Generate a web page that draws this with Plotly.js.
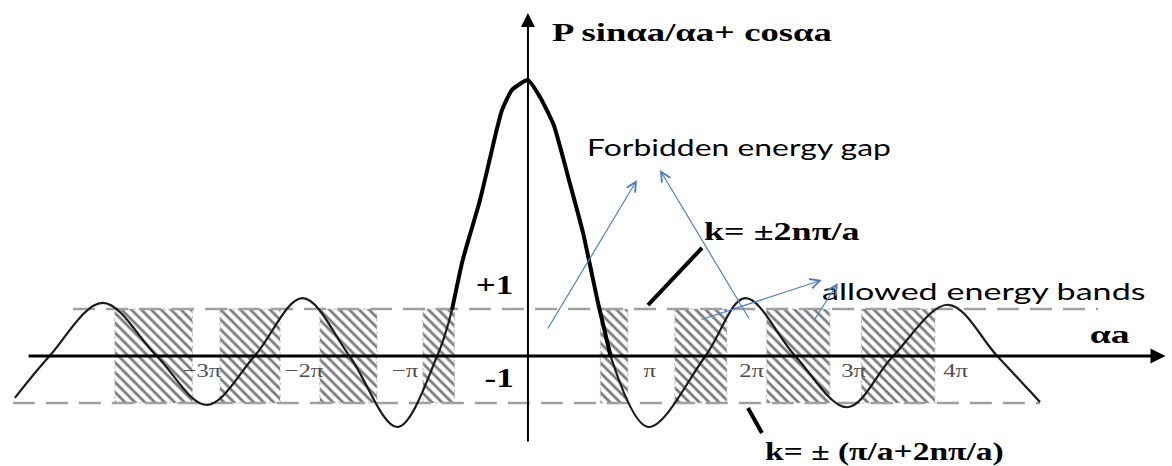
<!DOCTYPE html>
<html>
<head>
<meta charset="utf-8">
<script src="https://cdn.plot.ly/plotly-3.0.1.min.js"></script>
<style>
  html, body { margin: 0; padding: 0; background: #ffffff; }
  #plot { width: 1172px; height: 466px; }
</style>
</head>
<body>
<div id="plot"></div>
<script>
// Kronig–Penney condition: P·sin(αa)/(αa) + cos(αa) plotted against αa (in units of π)
const curveX = [-5.03, -4.69, -4.17, -3.64, -3.15, -2.68, -2.21, -1.75, -1.28, -0.89,
                -0.745, -0.64, -0.47, -0.30, -0.255, -0.157, 0, 0.118, 0.255, 0.41, 0.54,
                0.69, 0.81, 1.18, 1.74, 2.13, 2.62, 3.13, 3.58, 4.12, 4.60, 5.02];
const curveY = [-0.89, 0, 1.13, 0, -1.04, 0, 1.23, 0, -1.51, 0,
                0.98, 2.04, 3.32, 4.87, 5.23, 5.66, 5.87, 5.51, 4.90, 3.68, 2.62,
                1.10, 0, -1.51, 0, 1.23, 0, -1.09, 0, 1.09, 0, -0.98];

// central lobe drawn with a heavier stroke
const centralFrom = -0.745;
const centralTo = 0.81;

// allowed energy bands (|f| ≤ 1), αa in units of π
const bandStart = [-4.05, -3.02, -2.04, -1.03, 0.71, 1.44, 2.34, 3.27];
const bandEnd   = [-3.29, -2.43, -1.48, -0.72, 0.98, 1.95, 2.96, 3.99];

// the ±1 limits
const limitLevel = [1, -1];
const limitStart = [-4.46, -5.05];
const limitEnd   = [5.59, 5.02];

// multiples of π marked along the αa axis
const tickMultiples = [-3, -2, -1, 1, 2, 3, 4];
const tickText = ['−3π', '−2π', '−π', 'π', '2π', '3π', '4π'];

const PX_W = 1172, PX_H = 466;
const xRange = [-5.176, 6.314];
const yRange = [-2.34, 7.574];

const serif = 'Liberation Serif, Times New Roman, serif';
const sans = 'Lato, Open Sans, sans-serif';
const blue = '#4f81bd';

const traces = [];

// hatched bands
bandStart.forEach((a, i) => {
  const b = bandEnd[i];
  traces.push({
    type: 'scatter', mode: 'lines',
    x: [a, b, b, a, a], y: [-1, -1, 1, 1, -1],
    fill: 'toself', fillcolor: 'rgba(0,0,0,0)',
    fillpattern: { shape: '\\', fgcolor: '#7c7c7c', bgcolor: '#ffffff', size: 7, solidity: 0.4 },
    line: { color: '#bdbdbd', width: 1, dash: 'dot' },
    hoverinfo: 'skip', showlegend: false
  });
});

// dashed ±1 lines
limitLevel.forEach((lv, i) => {
  traces.push({
    type: 'scatter', mode: 'lines',
    x: [limitStart[i], limitEnd[i]], y: [lv, lv],
    line: { color: '#a0a0a0', width: 2.5, dash: '22px,11px' },
    hoverinfo: 'skip', showlegend: false
  });
});

// curve split into thin outer parts and a heavy central lobe
function segment(test) {
  const sx = [], sy = [];
  curveX.forEach((x, i) => { if (test(x)) { sx.push(x); sy.push(curveY[i]); } });
  return { x: sx, y: sy };
}
const leftPart = segment(x => x <= centralFrom);
const midPart = segment(x => x >= centralFrom && x <= centralTo);
const rightPart = segment(x => x >= centralTo);

[leftPart, rightPart].forEach(p => {
  traces.push({
    type: 'scatter', mode: 'lines', x: p.x, y: p.y,
    line: { color: '#1a1a1a', width: 2.2, shape: 'spline', smoothing: 1 },
    hoverinfo: 'skip', showlegend: false
  });
});
traces.push({
  type: 'scatter', mode: 'lines', x: midPart.x, y: midPart.y,
  line: { color: '#000000', width: 4, shape: 'spline', smoothing: 0.5 },
  hoverinfo: 'skip', showlegend: false
});

const annotations = [];
const stretch = [];   // horizontal stretch applied to each annotation's text
function addNote(a, s) { annotations.push(a); stretch.push(s || 0); }

// axes with arrowheads
addNote({ x: 6.25, y: 0, ax: -4.91, ay: 0, axref: 'x', ayref: 'y', xref: 'x', yref: 'y',
  text: '', showarrow: true, arrowhead: 2, arrowsize: 1, arrowwidth: 3, arrowcolor: '#000', standoff: 0 });
addNote({ x: 0, y: 7.30, ax: 0, ay: -1.85, axref: 'x', ayref: 'y', xref: 'x', yref: 'y',
  text: '', showarrow: true, arrowhead: 2, arrowsize: 1.4, arrowwidth: 2, arrowcolor: '#000', standoff: 0 });

// π labels
tickMultiples.forEach((n, i) => {
  addNote({ x: n + Math.sign(n) * 0.2, y: -0.31, xref: 'x', yref: 'y', text: tickText[i],
    showarrow: false, font: { family: serif, size: 19, color: '#505050' } }, 1.3);
});

// axis titles and level labels
addNote({ x: 0.216, y: 6.89, xref: 'x', yref: 'y', xanchor: 'left', showarrow: false,
  text: '<b>P sinαa/αa+ cosαa</b>', font: { family: serif, size: 26, color: '#000' } }, 1.41);
addNote({ x: 5.71, y: 0.45, xref: 'x', yref: 'y', showarrow: false,
  text: '<b>αa</b>', font: { family: serif, size: 26, color: '#000' } }, 1.45);
addNote({ x: -0.33, y: 1.51, xref: 'x', yref: 'y', showarrow: false,
  text: '<b>+1</b>', font: { family: serif, size: 27, color: '#000' } }, 1.3);
addNote({ x: -0.28, y: -0.47, xref: 'x', yref: 'y', showarrow: false,
  text: '<b>-1</b>', font: { family: serif, size: 27, color: '#000' } }, 1.3);

// band annotations
addNote({ x: 0.56, y: 4.45, xref: 'x', yref: 'y', xanchor: 'left', showarrow: false,
  text: 'Forbidden energy gap', font: { family: sans, size: 24, color: '#000' } }, 1.33);
addNote({ x: 2.86, y: 1.40, xref: 'x', yref: 'y', xanchor: 'left', showarrow: false,
  text: 'allowed energy bands', font: { family: sans, size: 24, color: '#000' } }, 1.42);
addNote({ x: 1.71, y: 2.64, xref: 'x', yref: 'y', xanchor: 'left', showarrow: false,
  text: '<b>k= ±2nπ/a</b>', font: { family: serif, size: 26, color: '#000' } }, 1.39);
addNote({ x: 2.30, y: -2.04, xref: 'x', yref: 'y', xanchor: 'left', showarrow: false,
  text: '<b>k= ± (π/a+2nπ/a)</b>', font: { family: serif, size: 26, color: '#000' } }, 1.29);

// blue pointer arrows
const arrowSpecs = [
  [1.069, 3.745, 0.186, 0.553],
  [1.294, 3.957, 2.176, 0.766],
  [2.882, 1.617, 1.686, 0.766],
  [3.039, 1.553, 2.794, 0.723]
];
arrowSpecs.forEach(s => {
  addNote({ x: s[0], y: s[1], ax: s[2], ay: s[3], axref: 'x', ayref: 'y', xref: 'x', yref: 'y',
    text: '', showarrow: true, arrowhead: 5, arrowsize: 1.6, arrowwidth: 1.2, arrowcolor: blue, standoff: 0 });
});

// black leader lines for the k labels
const shapes = [
  { type: 'line', xref: 'x', yref: 'y', x0: 1.706, y0: 2.298, x1: 1.176, y1: 1.085,
    line: { color: '#000', width: 4 } },
  { type: 'line', xref: 'x', yref: 'y', x0: 2.157, y0: -1.106, x1: 2.294, y1: -1.638,
    line: { color: '#000', width: 4 } }
];

const layout = {
  width: PX_W, height: PX_H,
  margin: { l: 0, r: 0, t: 0, b: 0, pad: 0 },
  paper_bgcolor: '#ffffff', plot_bgcolor: '#ffffff',
  xaxis: { range: xRange, visible: false, fixedrange: true },
  yaxis: { range: yRange, visible: false, fixedrange: true },
  showlegend: false,
  annotations: annotations,
  shapes: shapes
};

Plotly.newPlot('plot', traces, layout, { staticPlot: true, displayModeBar: false }).then(gd => {
  // widen the lettering horizontally, keeping each label's anchor fixed
  stretch.forEach((s, i) => {
    if (!s) return;
    const t = gd.querySelector('g.annotation[data-index="' + i + '"] text');
    if (!t) return;
    const anchorLeft = annotations[i].xanchor === 'left';
    t.style.transformBox = 'fill-box';
    t.style.transformOrigin = anchorLeft ? 'left center' : 'center center';
    t.style.transform = 'scaleX(' + s + ')';
  });
});
</script>
</body>
</html>
